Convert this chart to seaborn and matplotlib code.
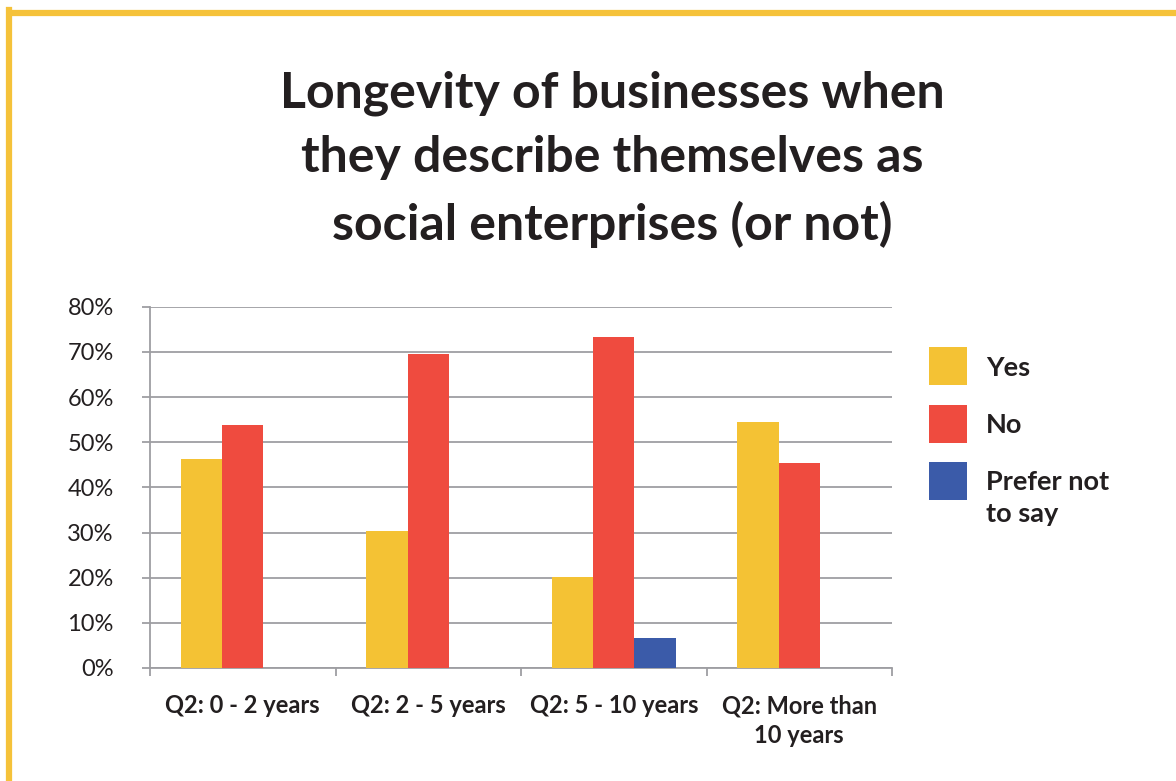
import matplotlib
matplotlib.use("Agg")
import matplotlib.pyplot as plt
import matplotlib.patches as mpatches
import matplotlib.lines as mlines
from matplotlib.ticker import FixedLocator, FuncFormatter
import seaborn as sns
import pandas as pd

# Survey results: share of respondents per business age band
categories = ["Q2: 0 - 2 years", "Q2: 2 - 5 years", "Q2: 5 - 10 years", "Q2: More than\n10 years"]
answers = ["Yes", "No", "Prefer not to say"]
yes_pct = [46.2, 30.4, 20.1, 54.5]
no_pct = [53.8, 69.6, 73.2, 45.5]
prefer_pct = [0.0, 0.0, 6.7, 0.0]
legend_labels = ["Yes", "No", "Prefer not\nto say"]
y_ticks = [0, 10, 20, 30, 40, 50, 60, 70, 80]

colors = ["#F4C234", "#EF4B3F", "#3B5BA9"]
text_color = "#231F20"
grid_color = "#9E9EA2"
FONT = ["Lato", "DejaVu Sans"]

rows = []
for series, values in zip(answers, [yes_pct, no_pct, prefer_pct]):
    for cat, v in zip(categories, values):
        rows.append({"category": cat, "answer": series, "pct": v})
df = pd.DataFrame(rows)

sns.set_theme(style="white")
plt.rcParams["font.family"] = FONT

fig = plt.figure(figsize=(11.76, 7.81), dpi=100)
W, H = 1176, 781
ax = fig.add_axes([150 / W, 1 - 668 / H, (892 - 150) / W, (668 - 306.7) / H])

sns.barplot(data=df, x="category", y="pct", hue="answer", order=categories,
            hue_order=answers, palette=colors, width=0.667, saturation=1,
            linewidth=0, ax=ax, legend=False, zorder=3)

ax.set_ylim(0, 80)
ax.set_xlim(-0.5, 3.5)
ax.yaxis.set_major_locator(FixedLocator(y_ticks))
ax.yaxis.set_major_formatter(FuncFormatter(lambda v, _: f"{v:.0f}%"))
ax.grid(axis="y", color=grid_color, linewidth=1.3, zorder=0)
ax.grid(axis="x", visible=False)
ax.set_axisbelow(True)

for side in ["top", "right"]:
    ax.spines[side].set_visible(False)
for side in ["left", "bottom"]:
    ax.spines[side].set_color(grid_color)
    ax.spines[side].set_linewidth(1.3)

ax.set_xlabel("")
ax.set_ylabel("")
ax.tick_params(axis="y", which="major", length=6, width=1.3, color=grid_color,
               direction="out", pad=20, labelsize=17, labelcolor=text_color, left=True)
for lbl in ax.get_yticklabels():
    lbl.set_verticalalignment("center_baseline")
ax.set_xticks(range(len(categories)))
ax.set_xticklabels(categories, fontsize=17, fontweight="bold", color=text_color,
                   linespacing=1.35)
ax.tick_params(axis="x", which="major", length=0, pad=19)
ax.set_xticks([-0.5, 0.5, 1.5, 2.5, 3.5], minor=True)
ax.tick_params(axis="x", which="minor", length=6, width=1.3, color=grid_color,
               direction="out", bottom=True)
for lbl in ax.get_xticklabels():
    lbl.set_verticalalignment("top")

# Legend: square swatches, label's first line level with its swatch
sw_left, sw_size, first_top, step = 929, 38, 347, 57.5
leg_font = 19.5
leg_spacing = 1.39
cap_px = 0.72 * leg_font * 100 / 72
line_px = 31
for i, (c, lab) in enumerate(zip(colors, legend_labels)):
    top = first_top + i * step
    fig.add_artist(mpatches.Rectangle((sw_left / W, 1 - (top + sw_size) / H),
                                      sw_size / W, sw_size / H,
                                      transform=fig.transFigure, facecolor=c,
                                      edgecolor="none"))
    mid = top + sw_size / 2
    n_extra = lab.count("\n")
    base_y = mid + cap_px / 2 + n_extra * line_px
    fig.text(986 / W, 1 - base_y / H, lab, ha="left", va="baseline",
             fontsize=leg_font, fontweight="bold", color=text_color,
             linespacing=leg_spacing)

# Title
fig.text(612 / W, 1 - 70 / H,
         "Longevity of businesses when\nthey describe themselves as\nsocial enterprises (or not)",
         ha="center", va="top", fontsize=36, fontweight="bold", color=text_color,
         linespacing=1.53)

# Yellow frame along the top and left edges
frame_color = "#F5C23A"
fig.add_artist(mlines.Line2D([9 / W, 9 / W], [0, 1 - 10 / H], transform=fig.transFigure,
                             color=frame_color, linewidth=4.5, solid_capstyle="projecting"))
fig.add_artist(mlines.Line2D([9 / W, 1], [1 - 12.7 / H, 1 - 12.7 / H], transform=fig.transFigure,
                             color=frame_color, linewidth=4.5, solid_capstyle="butt"))

fig.savefig("out.png", dpi=100, facecolor="white")
